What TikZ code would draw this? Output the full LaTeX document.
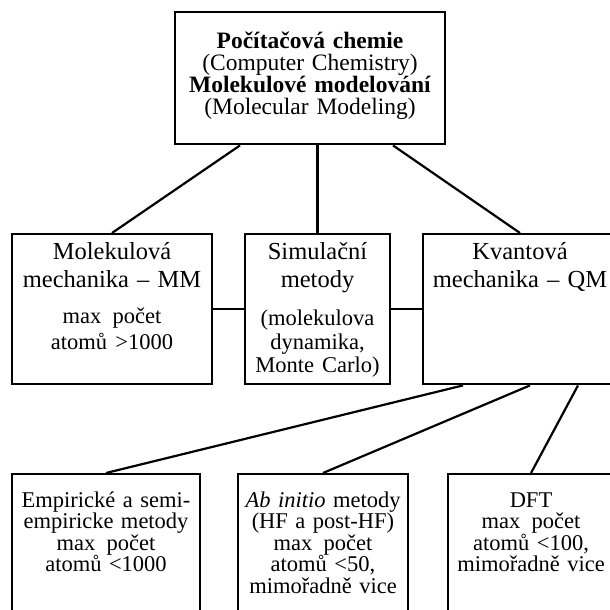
\documentclass[tikz,border=0pt]{standalone}
\usepackage{fontspec}
\setmainfont{Liberation Serif}
\usepackage{tikz}

\newcommand{\tpfont}{\fontsize{23.5}{22}\selectfont}
\newcommand{\hdfont}{\fontsize{24.5}{28}\selectfont}
\newcommand{\bdfont}{\fontsize{22.5}{21.5}\selectfont}

\begin{document}
\begin{tikzpicture}[x=1pt,y=-1pt,box node/.style={draw,line width=2.4pt,inner sep=0pt,align=center,anchor=north},mid node/.style={box node,font=\hdfont,text height=25pt,text depth=125pt},low node/.style={box node,font=\bdfont,text height=33pt,text depth=117pt},link/.style={draw,line width=2.2pt}]
			
			\useasboundingbox (0,0) rectangle (610,610);
			\clip (0,0) rectangle (610,610);
			
			\node[box node,font=\tpfont,text width=270pt,text height=36pt,text depth=96pt] (top) at (310,11) {\textbf{Počítačová chemie}\\ (Computer Chemistry)\\ \textbf{Molekulové modelování}\\ (Molecular Modeling)};
			
			\node[mid node,text width=200pt] (mm) at (112,233) {Molekulová\\ mechanika -- MM\\[8pt] {\bdfont max\enspace počet}\\[-2pt] {\bdfont atomů >1000}};
			\node[mid node,text width=145pt] (sim) at (317.5,233) {Simulační\\ metody\\[10pt] {\bdfont (molekulova}\\[-4pt] {\bdfont dynamika,}\\[-5pt] {\bdfont Monte Carlo)}};
			\node[mid node,text width=194pt] (qm) at (520,233) {Kvantová\\ mechanika -- QM};
			
			\node[low node,text width=188pt] (emp) at (106,473) {Empirické a semi-\\ empiricke metody\\ max\enspace počet\\ atomů <1000};
			\node[low node,text width=170pt] (abin) at (323,473) {\textit{Ab initio} metody\\ (HF a post-HF)\\ max\enspace počet\\ atomů <50,\\ mimořadně vice};
			\node[low node,text width=166pt] (dft) at (531,473) {DFT\\ max\enspace počet\\ atomů <100,\\ mimořadně vice};
			
			\draw[link] ([xshift=-70pt]top.south) -- (mm.north);
			\draw[link] (sim.north |- top.south) -- (sim.north);
			\draw[link] ([xshift=83pt]top.south) -- (qm.north);
			
			\draw[link] (mm.east) -- (sim.west);
			\draw[link] (sim.east) -- (qm.west);
			
			\draw[link] ([xshift=-57pt]qm.south) -- (emp.north);
			\draw[link] ([xshift=10pt]qm.south) -- (abin.north);
			\draw[link] ([xshift=58pt]qm.south) -- (dft.north);

		\end{tikzpicture}
\end{document}
